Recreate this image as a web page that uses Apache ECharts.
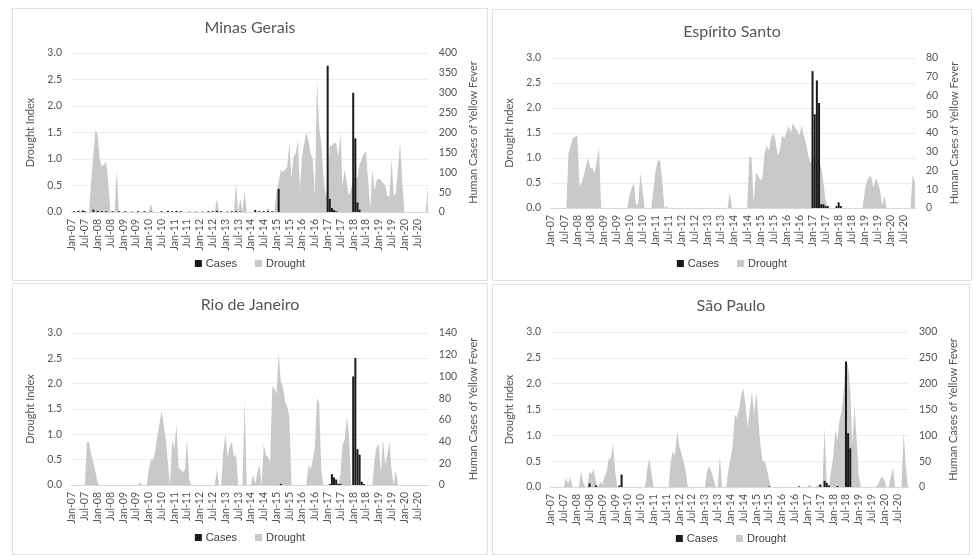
<!DOCTYPE html>
<html>
<head>
<meta charset="utf-8">
<script src="https://cdn.jsdelivr.net/npm/echarts@6/dist/echarts.min.js"></script>
<style>
  html, body { margin: 0; padding: 0; background: #ffffff; }
  body { width: 974px; height: 555px; position: relative; overflow: hidden; }
  .panel { position: absolute; border: 1px solid #e2e2e2; box-sizing: border-box; background: #fff; }
  .panel > div { position: absolute; left: 0; top: 0; width: 100%; height: 100%; }
</style>
</head>
<body>
<div class="panel" id="p1" style="left:12px;top:8px;width:476px;height:273px;"><div id="c1"></div></div>
<div class="panel" id="p2" style="left:492px;top:9px;width:480px;height:272px;"><div id="c2"></div></div>
<div class="panel" id="p3" style="left:12px;top:283px;width:476px;height:272px;"><div id="c3"></div></div>
<div class="panel" id="p4" style="left:492px;top:284px;width:478px;height:271px;"><div id="c4"></div></div>
<script>
// ---------- categories (Jan-07 ... Dec-20) ----------
const monthNames = ['Jan','Feb','Mar','Apr','May','Jun','Jul','Aug','Sep','Oct','Nov','Dec'];
const yearLabels = ['07','08','09','10','11','12','13','14','15','16','17','18','19','20'];
const categories = [];
yearLabels.forEach(y => monthNames.forEach(m => categories.push(m + '-' + y)));

// ---------- Minas Gerais ----------
const droughtMG = [
  0,0,0,0,0,0,0,0,0,0.6,1.1,1.55,
  1.45,1.0,0.85,0.9,0.95,0.55,0,0,0,0.8,0,0,
  0,0,0,0,0,0,0,0,0,0,0,0,
  0,0.15,0,0,0,0,0,0,0,0,0,0,
  0,0,0,0,0,0,0,0,0,0,0,0,
  0,0,0,0,0,0,0,0,0.25,0,0,0,
  0,0,0,0,0,0.55,0,0.25,0,0.4,0,0,
  0,0,0,0,0,0,0,0,0.08,0,0,0,
  0.4,0.55,0.8,0.75,0.8,0.85,1.3,0.65,1.05,1.1,1.35,0.45,
  1.05,1.3,1.5,1.35,1.1,1.0,0.3,2.5,1.6,1.3,0.7,0.3,
  0.5,1.25,1.25,1.3,1.3,1.05,1.5,0.5,0.8,0.55,0.3,0.45,
  0.6,0.65,0.65,0.9,1.0,1.1,1.15,0.6,0.05,0.8,0.4,0.6,
  0.63,0.6,0.55,0.5,0.3,0.3,1.0,0.3,0.35,0.8,1.3,0.6,
  0,0,0,0,0,0,0,0,0,0,0,0.5
];
const casesMG = [
  0,2,0,3,0,4,2,0,0,0,6,0,
  3,0,2,0,2,0,0,2,0,0,2,0,
  0,2,0,0,1,0,0,2,0,0,2,0,
  0,1,0,0,0,0,2,0,0,3,0,2,
  0,3,0,2,0,0,0,1,0,0,1,0,
  0,1,0,0,2,0,2,0,3,0,2,0,
  0,1,0,2,0,2,0,1,0,0,0,0,
  0,0,5,0,2,0,2,0,2,0,2,0,
  0,58,0,0,0,0,0,0,0,0,0,0,
  0,0,0,0,0,0,0,0,0,0,0,0,
  368,33,10,5,2,0,0,0,0,0,0,0,
  300,185,24,6,0,0,0,0,0,0,0,0,
  0,0,0,0,0,0,0,0,0,0,0,0,
  0,0,0,0,0,0,0,0,0,0,0,0
];

// ---------- Espírito Santo ----------
const droughtES = [
  0,0,0,0,0,0,0,0,1.1,1.25,1.4,1.42,
  1.45,0.45,0.5,0.65,0.85,1.0,0.8,0.8,0.7,0.95,1.2,0,
  0,0,0,0,0,0,0,0,0,0,0,0,
  0.25,0.4,0.5,0.05,0.1,0.7,0.35,0,0,0,0,0.4,
  0.75,0.95,0.95,0.55,0,0.03,0,0,0,0,0,0,
  0,0,0,0,0,0,0,0,0,0,0,0,
  0,0,0,0,0,0,0,0,0,0,0.3,0,
  0,0,0,0,0,0,0,1.05,1.0,0.1,0.7,0.65,
  0.55,0.6,1.1,1.25,1.15,1.4,1.5,1.35,1.05,1.15,1.45,1.4,
  1.5,1.65,1.5,1.7,1.6,1.55,1.45,1.65,1.45,1.3,1.05,0.9,
  1.0,1.05,1.0,0.95,0.8,0.5,0.15,0,0,0,0,0,
  0,0,0,0,0,0,0,0,0,0,0,0,
  0.35,0.55,0.63,0.62,0.4,0.6,0.5,0.35,0.05,0.25,0,0,
  0,0,0,0,0,0,0,0,0,0,0.68,0.5
];
const casesES = [
  0,0,0,0,0,0,0,0,0,0,0,0,
  0,0,0,0,0,0,0,0,0,0,0,0,
  0,0,0,0,0,0,0,0,0,0,0,0,
  0,0,0,0,0,0,0,0,0,0,0,0,
  0,0,0,0,0,0,0,0,0,0,0,0,
  0,0,0,0,0,0,0,0,0,0,0,0,
  0,0,0,0,0,0,0,0,0,0,0,0,
  0,0,0,0,0,0,0,0,0,0,0,0,
  0,0,0,0,0,0,0,0,0,0,0,0,
  0,0,0,0,0,0,0,0,0,0,0,0,
  73,50,68,56,2,2,1,1,0,0,0,1,
  3,1,0,0,0,0,0,0,0,0,0,0,
  0,0,0,0,0,0,0,0,0,0,0,0,
  0,0,0,0,0,0,0,0,0,0,0,0
];

// ---------- Rio de Janeiro ----------
const droughtRJ = [
  0,0,0,0,0,0,0,0.85,0.85,0.6,0.45,0.25,
  0.05,0,0,0,0,0,0,0,0,0,0,0,
  0,0,0,0,0,0,0,0,0.05,0,0,0,
  0.3,0.5,0.5,0.65,0.95,1.2,1.45,1.2,0.9,0.45,0,0.9,
  0.7,1.2,0.35,0.3,0.25,0.3,0.9,0.1,0,0,0,0,
  0,0,0,0,0,0,0,0,0.3,0,0,0.65,
  1.0,0.55,0.75,0.85,0.55,0.6,0,0,0,1.7,0,0,
  0,0.2,0.02,0.25,0.4,0,0.8,0.6,0.55,0.45,1.95,1.9,
  1.8,2.6,2.05,1.95,1.65,1.55,1.35,0,0,0,0,0,
  0,0,0,0.4,0.3,0.5,0.75,1.72,1.62,0.3,0,0,
  0,0,0,0,0,0,0.2,0.8,0.9,1.35,1.0,0,
  0,0,0,0,0,0,0,0,0,0,0.5,0.75,
  0.8,0.25,0.9,0.4,0.6,0.85,0.3,0,0.3,0,0,0,
  0,0,0,0,0,0,0,0,0,0,0,0
];
const casesRJ = [
  0,0,0,0,0,0,0,0,0,0,0,0,
  0,0,0,0,0,0,0,0,0,0,0,0,
  0,0,0,0,0,0,0,0,0,0,0,0,
  0,0,0,0,0,0,0,0,0,0,0,0,
  0,0,0,0,0,0,0,0,0,0,0,0,
  0,0,0,0,0,0,0,0,0,0,0,0,
  0,0,0,0,0,0,0,0,0,0,0,0,
  0,0,0,0,0,0,0,0,0,0,0,0,
  0,0,1,0,0,0,0,0,0,0,0,0,
  0,0,0,0,0,0,0,0,0,0,0,0,
  0,1,10,7,5,1,1,0,0,0,0,0,
  100,117,33,28,3,1,0,0,0,0,0,0,
  0,0,0,0,0,0,0,0,0,0,0,0,
  0,0,0,0,0,0,0,0,0,0,0,0
];

// ---------- São Paulo ----------
const droughtSP = [
  0,0,0,0,0,0,0,0.18,0.05,0.2,0,0,
  0,0,0.3,0.1,0,0,0.3,0.25,0.35,0.1,0,0.1,
  0.05,0.2,0.3,0.55,0.55,0.85,0.3,0,0,0,0,0,
  0,0,0,0,0,0,0,0,0,0.35,0.55,0.25,
  0,0,0,0,0,0,0,0,0.5,0.7,0.6,1.1,
  0.8,0.65,0.5,0.3,0,0,0,0,0,0,0,0,
  0,0.3,0.4,0.3,0.15,0,0,0.6,0,0,0,0.35,
  0.55,0.8,1.4,1.35,1.5,1.8,1.9,1.6,1.15,1.5,1.85,1.4,
  1.85,1.3,0.8,0.5,0.5,0.35,0.15,0,0,0,0,0,
  0,0,0,0,0,0,0,0,0.02,0,0,0,
  0,0.05,0,0,0,0.05,0,0,1.15,0.05,0,0.3,
  0.55,1.1,0.9,1.3,1.45,1.9,2.45,2.35,1.9,0.8,1.6,0.9,
  0.2,0,0,0,0,0,0,0,0,0.05,0.15,0.2,
  0.12,0,0,0.2,0.38,0,0,0,0,1.05,0.4,0
];
const casesSP = [
  0,0,0,0,0,0,0,0,0,0,0,0,
  0,0,0,0,0,0,7,0,0,3,0,0,
  0,0,0,0,0,0,0,0,3,24,0,0,
  0,0,0,0,0,0,0,0,0,0,0,0,
  0,0,0,0,0,0,0,0,0,0,0,0,
  0,0,0,0,0,0,0,0,0,0,0,0,
  0,0,0,0,0,0,0,0,0,0,0,0,
  0,0,0,0,0,0,0,0,0,0,0,0,
  0,0,0,0,0,0,1,0,0,0,0,0,
  0,0,0,0,0,0,0,0,1,0,0,0,
  0,0,0,0,0,0,5,0,12,8,3,0,
  0,0,2,0,0,0,243,104,75,0,0,0,
  0,0,0,0,0,0,0,0,0,0,0,0,
  0,0,0,0,0,0,0,0,0,0,0,0
];

// ---------- axis settings ----------
const droughtAxisMax = 3, droughtAxisStep = 0.5;
const caseAxisMax = { MG: 400, ES: 80, RJ: 140, SP: 300 };
const caseAxisStep = { MG: 50, ES: 10, RJ: 20, SP: 50 };

const TXT = '#555555';
const FONT = 'Lato, "Open Sans", sans-serif';

function makePanel(elId, title, drought, cases, cMax, cStep, lay) {
  const chart = echarts.init(document.getElementById(elId), null, { renderer: 'canvas' });
  chart.setOption({
    animation: false,
    backgroundColor: '#ffffff',
    title: {
      text: title, left: 'center', top: lay.titleTop,
      textStyle: { fontFamily: FONT, fontSize: 16, fontWeight: 'normal', color: TXT }
    },
    legend: {
      data: ['Cases', 'Drought'], left: 'center', top: lay.legendTop,
      icon: 'rect', itemWidth: 7, itemHeight: 7, itemGap: 18,
      textStyle: { fontFamily: '"Liberation Sans", Arial, sans-serif', fontSize: 11, color: '#404040', padding: [0, 0, 0, -1] }
    },
    grid: { left: lay.left, right: lay.right, top: lay.top, bottom: lay.bottom, containLabel: false },
    xAxis: {
      type: 'category', data: categories, boundaryGap: true,
      axisLine: { lineStyle: { color: '#d9d9d9' } },
      axisTick: { show: false },
      axisLabel: { interval: 5, rotate: 90, fontFamily: FONT, fontSize: 10.5, color: TXT, margin: 7 },
      splitLine: { show: false }
    },
    yAxis: [
      {
        type: 'value', min: 0, max: droughtAxisMax, interval: droughtAxisStep,
        name: 'Drought Index', nameLocation: 'middle', nameGap: 23,
        nameTextStyle: { fontFamily: FONT, fontSize: 11, color: TXT },
        axisLine: { show: false }, axisTick: { show: false },
        axisLabel: { fontFamily: FONT, fontSize: 10.5, color: TXT, margin: 9, formatter: v => v.toFixed(1) },
        splitLine: { lineStyle: { color: '#ededed', width: 1 } }
      },
      {
        type: 'value', min: 0, max: cMax, interval: cStep,
        name: 'Human Cases of Yellow Fever', nameLocation: 'middle', nameGap: lay.rNameGap,
        nameTextStyle: { fontFamily: FONT, fontSize: 11, color: TXT },
        axisLine: { show: false }, axisTick: { show: false },
        axisLabel: { fontFamily: FONT, fontSize: 10.5, color: TXT, margin: 10 },
        splitLine: { show: false }
      }
    ],
    series: [
      {
        name: 'Cases', type: 'bar', yAxisIndex: 1, data: cases, barWidth: 2,
        itemStyle: { color: '#1a1a1a' }, z: 3
      },
      {
        name: 'Drought', type: 'line', yAxisIndex: 0, data: drought,
        symbol: 'none', showSymbol: false,
        lineStyle: { width: 0, color: '#c9c9c9' },
        itemStyle: { color: '#c9c9c9' },
        areaStyle: { color: '#c9c9c9', opacity: 1 }, z: 2
      }
    ]
  });
}

makePanel('c1', 'Minas Gerais', droughtMG, casesMG, caseAxisMax.MG, caseAxisStep.MG,
  { left: 58, right: 55, top: 44, bottom: 68, titleTop: 6, legendTop: 244, rNameGap: 30 });
makePanel('c2', 'Espírito Santo', droughtES, casesES, caseAxisMax.ES, caseAxisStep.ES,
  { left: 57, right: 55, top: 48, bottom: 72, titleTop: 9, legendTop: 243, rNameGap: 25 });
makePanel('c3', 'Rio de Janeiro', droughtRJ, casesRJ, caseAxisMax.RJ, caseAxisStep.RJ,
  { left: 58, right: 55, top: 49, bottom: 69, titleTop: 8, legendTop: 243, rNameGap: 30 });
makePanel('c4', 'São Paulo', droughtSP, casesSP, caseAxisMax.SP, caseAxisStep.SP,
  { left: 57, right: 60, top: 47, bottom: 67, titleTop: 8, legendTop: 243, rNameGap: 30 });
</script>
</body>
</html>
